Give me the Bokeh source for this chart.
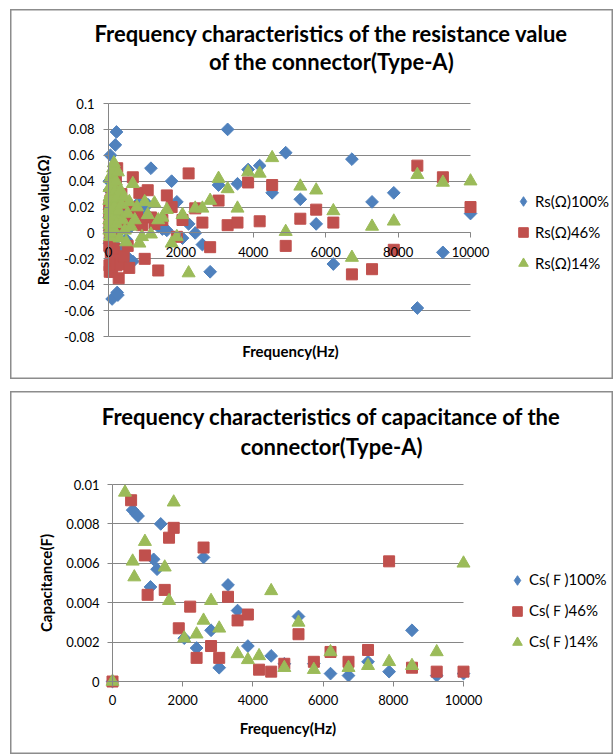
import math
from bokeh.plotting import figure
from bokeh.models import Range1d, FixedTicker, Label, Legend, LegendItem
from bokeh.layouts import column
from bokeh.embed import file_html
from bokeh.resources import INLINE

# ---------------- data: resistance chart ----------------
rs_freq = [20, 22, 24, 26, 28, 30, 33, 35, 38, 42, 45, 49, 53, 57, 62, 67, 73, 79, 85, 92,
           100, 108, 117, 127, 137, 149, 161, 174, 189, 204, 221, 240, 259, 281, 304, 329,
           356, 386, 418, 452, 489, 530, 574, 621, 672, 728, 788, 853, 924,
           1000, 1083, 1172, 1269, 1374, 1488, 1611, 1744, 1888, 2044, 2213, 2396, 2594,
           2808, 3040, 3291, 3563, 3857, 4176, 4521, 4895, 5299, 5737, 6211, 6724, 7280,
           7881, 8532, 9237, 10000]
rs_100 = [0.012, 0.040, 0.004, 0.033, -0.008, 0.018, 0.002, 0.025, 0.008, -0.004, 0.014, 0.020,
          0.060, 0.006, 0.012, -0.015, 0.003, 0.010, 0.018, -0.020,
          -0.051, 0.005, 0.015, 0.022, -0.003, 0.008, 0.030, 0.012, 0.068, -0.010, 0.078, -0.046,
          -0.048, 0.020, 0.008, 0.002, 0.015, -0.012, 0.010, 0.022, -0.005, 0.018, -0.020, 0.005,
          -0.022, 0.012, 0.020, 0.024, 0.010,
          0.016, 0.022, 0.050, 0.010, 0.005, 0.003, 0.002, 0.040, 0.024, -0.004, 0.007, 0.000,
          -0.009, -0.030, 0.037, 0.080, 0.038, 0.049, 0.052, 0.031, 0.062, 0.026, 0.007,
          -0.024, 0.057, 0.024, 0.031, -0.058, -0.015, 0.015]
rs_46 = [0.020, -0.010, 0.015, -0.025, 0.005, 0.010, -0.030, 0.000, 0.022, -0.005, 0.012, -0.029,
         0.025, 0.003, -0.015, 0.018, 0.008, -0.022, 0.030, 0.002,
         -0.030, 0.015, 0.006, -0.020, 0.036, 0.010, -0.012, 0.024, 0.004, 0.040, -0.025, 0.050,
         0.028, -0.035, 0.012, -0.024, 0.030, 0.005, -0.018, 0.022, 0.010, -0.010, -0.027, 0.020,
         0.043, 0.008, 0.015, 0.031, 0.006,
         -0.020, 0.033, 0.012, 0.007, -0.029, 0.010, 0.029, 0.020, -0.003, 0.010, 0.046, 0.019,
         0.008, -0.011, 0.025, 0.006, 0.008, 0.039, 0.009, 0.037, -0.010, 0.011, 0.018,
         0.008, -0.032, -0.028, -0.013, 0.052, 0.043, 0.020]
rs_14 = [0.010, 0.025, 0.002, 0.018, 0.035, 0.006, 0.014, 0.028, -0.003, 0.020, 0.042, 0.008,
         0.016, 0.030, 0.000, 0.022, 0.012, 0.045, 0.005, 0.026,
         0.018, 0.038, 0.010, 0.050, 0.003, 0.054, 0.020, 0.032, 0.014, 0.040, 0.007, 0.027,
         0.047, 0.017, -0.004, 0.033, 0.022, 0.010, 0.028, 0.002, -0.007, 0.015, 0.024, 0.005,
         0.038, 0.010, 0.020, -0.008, -0.003,
         0.024, 0.014, -0.001, 0.023, 0.010, 0.012, 0.018, -0.008, -0.003, 0.014, -0.031, 0.019,
         0.019, 0.025, 0.042, 0.034, 0.019, 0.047, 0.046, 0.058, 0.001, 0.036, 0.033,
         0.017, -0.019, 0.005, 0.009, 0.045, 0.039, 0.040]

# ---------------- data: capacitance chart ----------------
cs_freq_100 = [0, 574, 672, 728, 1083, 1172, 1269, 1374, 2044, 2396, 2594, 2808, 3040, 3291,
               3563, 3857, 4521, 4895, 5299, 5737, 6211, 6724, 7280, 7881, 8532, 9237, 10000]
cs_100 = [0.0, 0.0087, 0.0085, 0.0084, 0.0048, 0.0062, 0.0057, 0.0080, 0.0022, 0.0017, 0.0063,
          0.0026, 0.0007, 0.0049, 0.0036, 0.0018, 0.0013, 0.0009, 0.0033, 0.0009, 0.0004,
          0.0003, 0.0010, 0.0005, 0.0026, 0.0003, 0.0004]
cs_freq_46 = [0, 530, 924, 1000, 1488, 1611, 1744, 1888, 2213, 2396, 2594, 2808, 3040, 3291,
              3563, 3857, 4176, 4521, 4895, 5299, 5737, 6211, 6724, 7280, 7881, 8532, 9237, 10000]
cs_46 = [0.0, 0.0092, 0.0064, 0.0044, 0.00465, 0.0073, 0.0078, 0.0027, 0.0038, 0.0012, 0.0068,
         0.0018, 0.0012, 0.0043, 0.0031, 0.0034, 0.0006, 0.0005, 0.0009, 0.0024, 0.0010,
         0.0015, 0.0010, 0.0016, 0.0061, 0.0007, 0.0005, 0.0005]
cs_freq_14 = [0, 356, 574, 621, 924, 1488, 1611, 1744, 2044, 2396, 2594, 2808, 3040, 3563,
              3857, 4176, 4521, 4895, 5299, 5737, 6211, 6724, 7280, 7881, 8532, 9237, 10000]
cs_14 = [0.0, 0.0096, 0.0061, 0.0053, 0.0071, 0.0058, 0.0041, 0.0091, 0.0022, 0.0024, 0.0031,
         0.0041, 0.0027, 0.0014, 0.0011, 0.0013, 0.0046, 0.0007, 0.0030, 0.0006, 0.0015,
         0.0007, 0.0008, 0.0010, 0.0008, 0.0015, 0.0060]

# ---------------- ticks / labels ----------------
x_ticks = [0, 2000, 4000, 6000, 8000, 10000]
x_tick_labels = ["0", "2000", "4000", "6000", "8000", "10000"]
rs_y_ticks = [-0.08, -0.06, -0.04, -0.02, 0, 0.02, 0.04, 0.06, 0.08, 0.1]
rs_y_tick_labels = ["-0.08", "-0.06", "-0.04", "-0.02", "0", "0.02", "0.04", "0.06", "0.08", "0.1"]
cs_y_ticks = [0, 0.002, 0.004, 0.006, 0.008, 0.01]
cs_y_tick_labels = ["0", "0.002", "0.004", "0.006", "0.008", "0.01"]

rs_title = ["Frequency characteristics of the resistance value", "of the connector(Type-A)"]
cs_title = ["Frequency characteristics of capacitance of the", "connector(Type-A)"]
rs_labels = ["Rs(Ω)100%", "Rs(Ω)46%", "Rs(Ω)14%"]
cs_labels = ["Cs(Ｆ)100%", "Cs(Ｆ)46%", "Cs(Ｆ)14%"]
x_title = "Frequency(Hz)"
rs_y_title = "Resistance value(Ω)"
cs_y_title = "Capacitance(F)"

BLUE, RED, GREEN = "#4F81BD", "#C0504D", "#9BBB59"
GRID = "#868686"
BOXC = "#8c8c8c"
FONT = "Lato"
TITLE_SIZE = "22px"
AXIS_TITLE_SIZE = "15px"


def chart_ranges(box_w, box_h, px0, px1, dx0, dx1, py_top, py_bot, dy_top, dy_bot):
    """Ranges so that data dx0..dx1 maps to pixels px0..px1 within a box of box_w x box_h."""
    kx = (px1 - px0) / (dx1 - dx0)
    ky = (py_bot - py_top) / (dy_top - dy_bot)
    xr = Range1d(dx0 - px0 / kx, dx1 + (box_w - px1) / kx)
    yr = Range1d(dy_bot - (box_h - py_bot) / ky, dy_top + py_top / ky)
    return xr, yr


def make_chart(box_w, box_h, geom, y_ticks, y_labels, ylab_stand, ystand, xstand):
    xr, yr = chart_ranges(box_w, box_h, *geom)
    p = figure(width=box_w, height=box_h, x_range=xr, y_range=yr,
               output_backend="svg", toolbar_location=None, min_border=0,
               min_border_left=0, min_border_right=0, min_border_top=0, min_border_bottom=0)
    p.title.visible = False
    p.outline_line_color = BOXC
    p.outline_line_width = 2
    x0, x1 = geom[2], geom[3]
    y_top, y_bot = geom[6], geom[7]
    p.xaxis.ticker = FixedTicker(ticks=x_ticks)
    p.xaxis.major_label_overrides = dict(zip(x_ticks, x_tick_labels))
    p.xaxis.bounds = (x0, x1)
    p.yaxis.ticker = FixedTicker(ticks=y_ticks)
    p.yaxis.major_label_overrides = dict(zip(y_ticks, y_labels))
    p.yaxis.bounds = (y_bot, y_top)
    p.yaxis.fixed_location = x0
    p.ygrid.ticker = FixedTicker(ticks=y_ticks)
    p.ygrid.cross_bounds = (x0, x1)
    p.xgrid.visible = False
    p.ygrid.grid_line_color = GRID
    for ax in (p.xaxis[0], p.yaxis[0]):
        ax.axis_line_color = GRID
        ax.major_tick_line_color = GRID
        ax.major_tick_out = 5
        ax.major_tick_in = 0
        ax.minor_tick_line_color = None
        ax.major_label_text_font = FONT
        ax.major_label_text_font_size = "13px"
        ax.major_label_text_color = "#000000"
        ax.axis_label_text_font = FONT
        ax.axis_label_text_font_size = AXIS_TITLE_SIZE
        ax.axis_label_text_font_style = "bold"
        ax.axis_label_text_color = "#000000"
    p.yaxis.major_label_standoff = ystand
    p.yaxis.axis_label_standoff = ylab_stand
    p.xaxis.major_label_standoff = xstand
    return p


def add_series(p, xs_list, ys_list, labels, loc):
    specs = [(BLUE, "square", 9, math.pi / 4), (RED, "square", 11, 0.0),
             (GREEN, "triangle", 13, 0.0)]
    items = []
    for i, (xs, ys, lab, (col, mk, sz, ang)) in enumerate(zip(xs_list, ys_list, labels, specs)):
        r = p.scatter(xs, ys, marker=mk, size=sz, angle=ang, fill_color=col,
                      line_color=col, line_width=1)
        if i == 0:
            # legend swatch drawn as a diamond (same data, not drawn in the plot)
            r = p.scatter(xs, ys, marker="diamond", size=sz, fill_color=col, line_color=col,
                          line_width=1, visible=False)
        items.append(LegendItem(label=lab, renderers=[r]))
    leg = Legend(items=items, location=loc, border_line_color=None,
                 background_fill_alpha=0, padding=0, margin=0, spacing=7,
                 glyph_width=24, glyph_height=24, label_height=24, label_standoff=0,
                 label_text_font=FONT, label_text_font_size="15px",
                 label_text_color="#000000", click_policy="none")
    p.add_layout(leg)


def add_text(p, txt, x, y, size, bold=True):
    p.add_layout(Label(x=x, y=y, x_units="screen", y_units="screen", text=txt,
                       text_align="center", text_baseline="middle", text_font=FONT,
                       text_font_style="bold" if bold else "normal",
                       text_font_size=size, text_color="#000000"))


# ---------------- top chart (box at page x=10, y=9) ----------------
W1, H1 = 603, 370
p1 = make_chart(W1, H1, (98, 460, 0, 10000, 94, 327, 0.1, -0.08),
                rs_y_ticks, rs_y_tick_labels, 9, 9, 9)
p1.margin = (9, 0, 0, 10)
p1.xaxis.fixed_location = 0
p1.yaxis.axis_label = rs_y_title
add_series(p1, [rs_freq, rs_freq, rs_freq], [rs_100, rs_46, rs_14], rs_labels, (501, 104))
add_text(p1, rs_title[0], 321, 346, TITLE_SIZE)
add_text(p1, rs_title[1], 321, 318, TITLE_SIZE)
add_text(p1, x_title, 280, 29, AXIS_TITLE_SIZE)

# ---------------- bottom chart (box at page x=10, y=391) ----------------
W2, H2 = 603, 363
p2 = make_chart(W2, H2, (102, 453, 0, 10000, 93, 290, 0.01, 0.0),
                cs_y_ticks, cs_y_tick_labels, 8, 8, 8)
p2.margin = (12, 0, 0, 10)
p2.xaxis.fixed_location = 0
p2.yaxis.axis_label = cs_y_title
p2.xaxis.axis_label = x_title
p2.xaxis.axis_label_standoff = 11
add_series(p2, [cs_freq_100, cs_freq_46, cs_freq_14], [cs_100, cs_46, cs_14], cs_labels, (495, 100))
add_text(p2, cs_title[0], 321, 338, TITLE_SIZE)
add_text(p2, cs_title[1], 321, 308, TITLE_SIZE)

layout = column(p1, p2, spacing=0)
open("out.html", "w").write(file_html(layout, INLINE))
